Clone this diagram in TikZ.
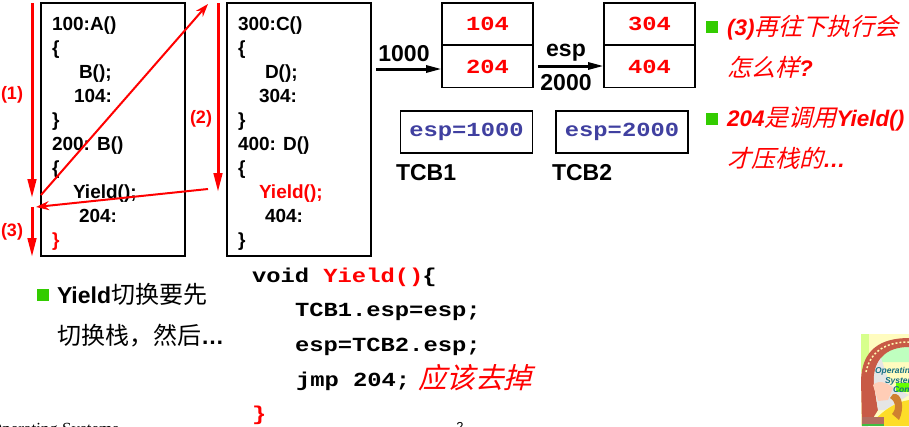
\documentclass[tikz,border=0pt]{standalone}
\usepackage{fontspec}
\setmainfont{Liberation Sans}
\newfontfamily\serifF{Liberation Serif}
\newfontfamily\cjk{Noto Sans CJK SC}
\newfontfamily\cjkit[FakeSlant=0.25]{Noto Sans CJK SC}
\newfontfamily\monof[FakeStretch=1.19]{Liberation Mono}
\newcommand{\hanit}[1]{{\cjkit\mdseries\fontsize{24}{24}\selectfont #1}}
\newcommand{\hanup}[1]{{\cjk\mdseries\fontsize{24}{24}\selectfont #1}}
\usetikzlibrary{arrows.meta}
\definecolor{myred}{RGB}{255,0,0}
\definecolor{mygreen}{RGB}{51,204,0}
\definecolor{myblue}{RGB}{64,64,160}
\definecolor{archred}{RGB}{200,90,70}
\definecolor{bookteal}{RGB}{20,110,130}
\tikzset{
  x=1pt,y=-1pt,
  txt/.style={inner sep=0pt,outer sep=0pt,anchor=base west,font=\fontsize{19}{19}\selectfont\bfseries,text=black},
  lab/.style={txt,font=\fontsize{23}{23}\selectfont\bfseries},
  redtxt/.style={text=myred},
  num/.style={inner sep=0pt,anchor=base,font=\fontsize{18}{18}\selectfont\bfseries,text=myred},
  frame/.style={draw=black,line width=1.5pt,fill=none,inner sep=0pt,outer sep=0pt,rectangle},
  cell/.style={frame,minimum width=91pt,minimum height=42pt,font=\monof\fontsize{20}{20}\selectfont\bfseries,text=myred},
  tcb/.style={frame,minimum width=132pt,minimum height=42pt,font=\monof\fontsize{20}{20}\selectfont\bfseries,text=myblue},
  code/.style={txt,font=\monof\fontsize{20}{20}\selectfont\bfseries},
  bullet/.style={fill=mygreen,inner sep=0pt,minimum size=11.5pt,rectangle},
  note/.style={txt,font=\fontsize{22.5}{22}\selectfont\bfseries\itshape,text=myred},
  plain/.style={txt,font=\fontsize{23}{23}\selectfont\bfseries},
  booktxt/.style={txt,font=\fontsize{8.5}{9}\selectfont\itshape\bfseries,text=bookteal},
  bigred/.style={draw=myred,line width=3pt,-{Triangle[length=19pt,width=8.5pt]}},
  thinred/.style={draw=myred,line width=2pt,-{Stealth[length=13pt,width=9pt]}},
  blackarr/.style={draw=black,line width=3pt,-{Triangle[length=16pt,width=7pt]}}
}
\begin{document}
\begin{tikzpicture}
\useasboundingbox (0,0) rectangle (909,426);
\clip (0,0) rectangle (909,426);
\fill[white] (0,0) rectangle (909,426);

% code boxes
\node[frame,minimum width=144pt,minimum height=253pt] (boxA) at (113,129.5) {};
\node[frame,minimum width=144pt,minimum height=253pt] (boxC) at (299,129.5) {};

\node[txt] (a1) at (52,30) {100:A()};
\node[txt] (a2) at (52,54) {\{};
\node[txt] (a3) at (79,78) {B();};
\node[txt] (a4) at (74,102) {104:};
\node[txt] (a5) at (52,126) {\}};
\node[txt] (a6) at (52,150) {200: B()};
\node[txt] (a7) at (52,174) {\{};
\node[txt] (a8) at (73,198) {Yield();};
\node[txt] (a9) at (79,222) {204:};
\node[txt,redtxt] (a10) at (52,246) {\}};

\node[txt] (c1) at (238,30) {300:C()};
\node[txt] (c2) at (238,54) {\{};
\node[txt] (c3) at (265,78) {D();};
\node[txt] (c4) at (259,102) {304:};
\node[txt] (c5) at (238,126) {\}};
\node[txt] (c6) at (238,150) {400: D()};
\node[txt] (c7) at (238,174) {\{};
\node[txt,redtxt] (c8) at (259,198) {Yield();};
\node[txt] (c9) at (265,222) {404:};
\node[txt] (c10) at (238,246) {\}};

% flow arrows
\coordinate (f1a) at (32,3);
\coordinate (f1b) at (32,198);
\coordinate (f2a) at (218,3);
\coordinate (f2b) at (218,192);
\coordinate (f3a) at (32,207);
\coordinate (f3b) at (32,257);
\coordinate (jumpA) at (41,195);
\coordinate (jumpB) at (208,4);
\coordinate (backA) at (208,189);
\coordinate (backB) at (36,207);
\draw[bigred] (f1a) -- (f1b);
\draw[bigred] (f2a) -- (f2b);
\draw[bigred] (f3a) -- (f3b);
\draw[thinred] (jumpA) -- (jumpB);
\draw[thinred] (backA) -- (backB);
\node[num] (l1) at (12,99) {(1)};
\node[num] (l2) at (201,123) {(2)};
\node[num] (l3) at (12,236) {(3)};

% stacks
\node[cell] (s104) at (487.5,24) {104};
\node[cell] (s204) at (487.5,66.5) {204};
\node[cell] (s304) at (649.5,24) {304};
\node[cell] (s404) at (649.5,66.5) {404};

\coordinate (p1) at (376,69);
\coordinate (p2) at (538,66);
\draw[blackarr] (p1) -- (s204.west |- p1);
\draw[blackarr] (p2) -- (s404.west |- p2);
\node[lab,anchor=base] (t1000) at (404,61) {1000};
\node[lab,anchor=base] (tesp) at (566,56) {esp};
\node[lab,anchor=base] (t2000) at (566,90) {2000};

% TCBs
\node[tcb] (tcb1) at (466.5,132) {esp=1000};
\node[tcb] (tcb2) at (622,132) {esp=2000};
\node[lab] (n1) at (396,180) {TCB1};
\node[lab] (n2) at (552,180) {TCB2};

% right notes
\node[bullet] (b1) at (712,27) {};
\node[note] (r1) at (727,35) {(3)\hanit{再往下执行会}};
\node[note] (r2) at (727,76) {\hanit{怎么样}?};
\node[bullet] (b2) at (712,119) {};
\node[note] (r3) at (727,126) {204\hanit{是调用}Yield()};
\node[note] (r4) at (727,167) {\hanit{才压栈的}…};

% left note
\node[bullet] (b3) at (43,295) {};
\node[plain] (y1) at (57,303) {Yield\hanup{切换要先}};
\node[plain] (y2) at (57,344) {\hanup{切换栈，然后}…};

% Yield code
\node[code] (k1) at (252,282) {void \textcolor{myred}{Yield()}\kern-1pt\{};
\node[code] (k2) at (295,316) {TCB1.esp=esp;};
\node[code] (k3) at (295,351) {esp=TCB2.esp;};
\node[code] (k4) at (296,386) {jmp 204;};
\node[txt,redtxt,font=\cjkit\mdseries\fontsize{28.5}{29}\selectfont] (k5) at (418,388) {应该去掉};
\node[code,redtxt] (k6) at (252,420) {\}};

% footer, cut by the page edge
\node[txt,font=\serifF\fontsize{17}{17}\selectfont\mdseries] (foot) at (-10,434) {Operating Systems};
\node[txt,font=\fontsize{13}{13}\selectfont\mdseries,anchor=base] (pg) at (460,431) {2};

% book cover
\begin{scope}
\fill[yellow!25!white] (861,334) rectangle (909,426);
\fill[green!35!yellow!45!white] (861,334) rectangle (869,372);
\fill[green!25!white] (878,352) -- (890,348) -- (909,347) -- (909,362) -- (880,362) -- cycle;
\fill[archred] (862,426) -- (861,380) .. controls (862,350) and (880,338) .. (909,338) -- (909,347) .. controls (885,347) and (873,360) .. (874,385) -- (878,410) -- (868,426) -- cycle;
\draw[yellow!30!white,line width=1.5pt,dash pattern=on 2pt off 2pt] (866,372) .. controls (870,352) and (885,342) .. (909,342);
\fill[gray!20!white] (874,385) .. controls (873,372) and (876,364) .. (881,358) -- (890,385) -- (909,395) -- (885,410) -- (878,410) -- cycle;
\fill[pink!70!orange!60!white] (873,385) .. controls (880,378) and (890,385) .. (893,388) -- (888,400) -- (878,401) -- cycle;
\fill[yellow!75!orange!85!white] (870,426) .. controls (880,412) and (895,402) .. (909,400) -- (909,426) -- cycle;
\fill[green!60!yellow] (896,383) rectangle (909,392);
\fill[brown!75!orange] (893,394) .. controls (902,392) and (905,408) .. (899,420) -- (892,414) .. controls (897,408) and (896,402) .. (890,398) -- cycle;
\fill[archred!80!black!80!white] (862,417) rectangle (884,424);
\fill[green!50!gray] (862,424) rectangle (884,426);
\node[booktxt] (bk1) at (875,373) {Operating};
\node[booktxt] (bk2) at (885,383) {System};
\node[booktxt] (bk3) at (893,392) {Conc};
\end{scope}
\end{tikzpicture}
\end{document}
